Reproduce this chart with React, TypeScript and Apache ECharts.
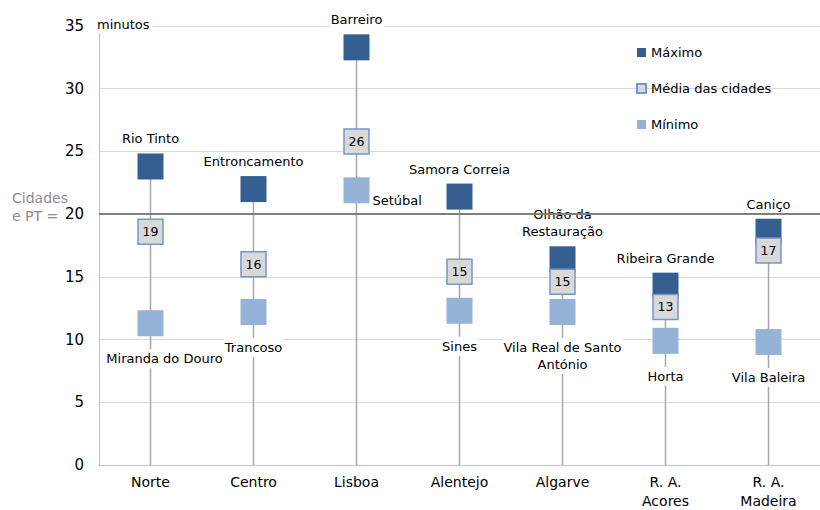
import React, { useEffect, useRef } from "react";
import * as echarts from "echarts";

const categories = ["Norte", "Centro", "Lisboa", "Alentejo", "Algarve", "R. A.\nAcores", "R. A.\nMadeira"];
const maxValues = [23.8, 22.0, 33.3, 21.4, 16.4, 14.3, 18.6];
const avgValues = [18.6, 16.0, 25.8, 15.4, 14.6, 12.6, 17.1];
const minValues = [11.3, 12.2, 21.9, 12.3, 12.2, 9.9, 9.8];
const maxCities = ["Rio Tinto", "Entroncamento", "Barreiro", "Samora Correia", "Olhão da\nRestauração", "Ribeira Grande", "Caniço"];
const minCities = ["Miranda do Douro", "Trancoso", "Setúbal", "Sines", "Vila Real de Santo\nAntónio", "Horta", "Vila Baleira"];
const referenceValue = 20;
const seriesNames = ["Máximo", "Média das cidades", "Mínimo"];

const FONT = "DejaVu Sans";

function buildOption() {
  const labelBase = {
    show: true,
    fontFamily: FONT,
    fontSize: 13,
    color: "#000",
    backgroundColor: "#fff",
    padding: [1, 1],
    lineHeight: 17,
  };
  const maxData = maxValues.map((v, i) => ({ value: v, name: maxCities[i] }));
  const minData = minValues.map((v, i) => {
    const item: any = { value: v, name: minCities[i] };
    if (i === 0) item.label = { offset: [14, 0] };
    if (i === 2) item.label = { position: "right", distance: 2, offset: [0, 10] };
    return item;
  });
  return {
    animation: false,
    textStyle: { fontFamily: FONT },
    grid: { left: 99, width: 730, top: 26, bottom: 33, containLabel: false },
    legend: {
      orient: "vertical",
      left: 636,
      top: 46,
      itemWidth: 9,
      itemHeight: 9,
      itemGap: 23,
      icon: "rect",
      padding: 0,
      data: seriesNames,
      textStyle: { fontFamily: FONT, fontSize: 13, color: "#000" },
    },
    xAxis: {
      type: "category",
      data: categories,
      axisTick: { show: false },
      axisLine: { lineStyle: { color: "#BFBFBF", width: 1 } },
      axisLabel: { fontFamily: FONT, fontSize: 14, color: "#000", margin: 7, lineHeight: 19 },
    },
    yAxis: {
      type: "value",
      min: 0,
      max: 35,
      interval: 5,
      axisLine: { show: true, lineStyle: { color: "#BFBFBF", width: 1 } },
      axisTick: { show: false },
      axisLabel: { fontFamily: FONT, fontSize: 15, color: "#000", margin: 15 },
      splitLine: { lineStyle: { color: "#D9D9D9", width: 1 } },
    },
    graphic: [
      {
        type: "text",
        left: 94,
        top: 16,
        z: 100,
        style: {
          text: "minutos",
          font: `13px "${FONT}"`,
          fill: "#000",
          backgroundColor: "#fff",
          padding: [2, 3],
        },
      },
      {
        type: "text",
        left: 12,
        top: 189,
        z: 100,
        style: {
          text: "Cidades\ne PT =",
          font: `14px "${FONT}"`,
          fill: "#8C8C8C",
          lineHeight: 18,
        },
      },
    ],
    series: [
      {
        type: "bar",
        name: "linha",
        data: maxValues,
        barWidth: 1.5,
        silent: true,
        z: 1,
        itemStyle: { color: "#A6A6A6" },
        markLine: {
          silent: true,
          symbol: "none",
          label: { show: false },
          lineStyle: { color: "#7F7F7F", width: 2, type: "solid" },
          data: [{ yAxis: referenceValue }],
        },
      },
      {
        type: "scatter",
        name: seriesNames[0],
        data: maxData,
        symbol: "rect",
        symbolSize: 26,
        z: 3,
        itemStyle: { color: "#355F91", opacity: 1 },
        label: { ...labelBase, position: "top", distance: 5, formatter: "{b}" },
      },
      {
        type: "scatter",
        name: seriesNames[2],
        data: minData,
        symbol: "rect",
        symbolSize: 26,
        z: 4,
        itemStyle: { color: "#95B3D7", opacity: 1 },
        label: { ...labelBase, position: "bottom", distance: 13, formatter: "{b}" },
      },
      {
        type: "scatter",
        name: seriesNames[1],
        data: avgValues,
        symbol: "rect",
        symbolSize: 25,
        z: 5,
        itemStyle: { color: "#D9D9D9", borderColor: "#7397CB", borderWidth: 1.5, opacity: 1 },
        label: {
          show: true,
          position: "inside",
          fontFamily: FONT,
          fontSize: 12.5,
          color: "#000",
          formatter: (p: any) => String(Math.round(p.value)),
        },
      },
    ],
  };
}

export default function App() {
  const ref = useRef<HTMLDivElement>(null);
  useEffect(() => {
    document.body.style.margin = "0";
    if (!ref.current) return;
    const chart = echarts.init(ref.current, null, { renderer: "svg" });
    chart.setOption(buildOption() as any);
    return () => chart.dispose();
  }, []);
  return <div ref={ref} style={{ width: 820, height: 510, background: "#fff" }} />;
}
